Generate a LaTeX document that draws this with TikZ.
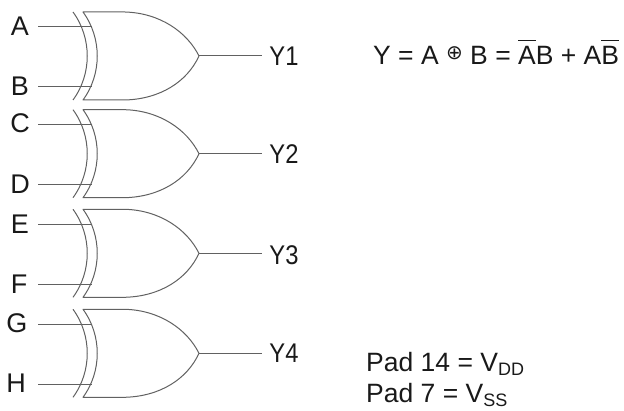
\documentclass[tikz,border=0pt]{standalone}
\usepackage{fontspec}
\setmainfont{Liberation Sans}
\newfontfamily\symfont{DejaVu Sans}
\newcommand{\ovbar}[1]{\leavevmode\setbox0=\hbox{#1}\rlap{\raisebox{23.5pt}{\rule{\wd0}{1.3pt}}}\box0 }
\newcommand{\xorsym}{\raisebox{5pt}{\symfont\fontsize{20}{20}\selectfont ⊕}}
\tikzset{
  wire/.style={draw=black!62, line width=1pt},
  pin/.style={font=\fontsize{27}{27}\selectfont, text=black!90, inner sep=0pt, anchor=center},
  outpin/.style={pin, xscale=0.88},
  note/.style={font=\fontsize{26.5}{28}\selectfont, text=black!90, inner sep=0pt, anchor=base west},
  xorgate/.pic={
    \draw[wire] (73,12) .. controls (92,38) and (92,74) .. (73,100);
    \draw[wire, line join=round] (83,12) .. controls (102,38) and (102,74) .. (83,100)
      -- (125,100) .. controls (160,99) and (187,82) .. (199,56)
      .. controls (187,32) and (160,13) .. (125,12) -- cycle;
    \coordinate (-ia) at (92,27);
    \coordinate (-ib) at (92,87);
    \coordinate (-o) at (199,56);
    \coordinate (-e) at (262,56);
  }
}
\begin{document}
\begin{tikzpicture}[x=1pt,y=-1pt]
\useasboundingbox (0,0) rectangle (624,411);
\path (0,0)    pic (g1) {xorgate};
\path (0,97.7) pic (g2) {xorgate};
\path (0,197.3) pic (g3) {xorgate};
\path (0,297.3) pic (g4) {xorgate};

\node[pin] (A) at (20,26) {A};
\node[pin] (B) at (20,86) {B};
\node[pin] (C) at (20,123) {C};
\node[pin] (D) at (20,184) {D};
\node[pin] (E) at (20,224) {E};
\node[pin] (F) at (19,284) {F};
\node[pin] (G) at (17,323) {G};
\node[pin] (H) at (16,383) {H};
\node[outpin] (Y1) at (284,56) {Y1};
\node[outpin] (Y2) at (284,154) {Y2};
\node[outpin] (Y3) at (284,255) {Y3};
\node[outpin] (Y4) at (284,353) {Y4};

\foreach \g/\p/\q in {g1/A/B,g2/C/D,g3/E/F,g4/G/H}{
  \coordinate (\p s) at (38,0 |- \g-ia);
  \coordinate (\q s) at (38,0 |- \g-ib);
  \draw[wire] (\p s) -- (\g-ia);
  \draw[wire] (\q s) -- (\g-ib);
}
\foreach \g in {g1,g2,g3,g4}{
  \draw[wire] (\g-o) -- (\g-e);
}

\node[note] (eq) at (373,65) {Y = A \xorsym{} B = \ovbar{A}B + A\ovbar{B}};
\node[note] (p14) at (366,372) {Pad 14 = V\raisebox{-4pt}{\fontsize{18}{18}\selectfont DD}};
\node[note] (p7) at (366,403) {Pad 7 = V\raisebox{-4pt}{\fontsize{18}{18}\selectfont SS}};
\end{tikzpicture}
\end{document}
